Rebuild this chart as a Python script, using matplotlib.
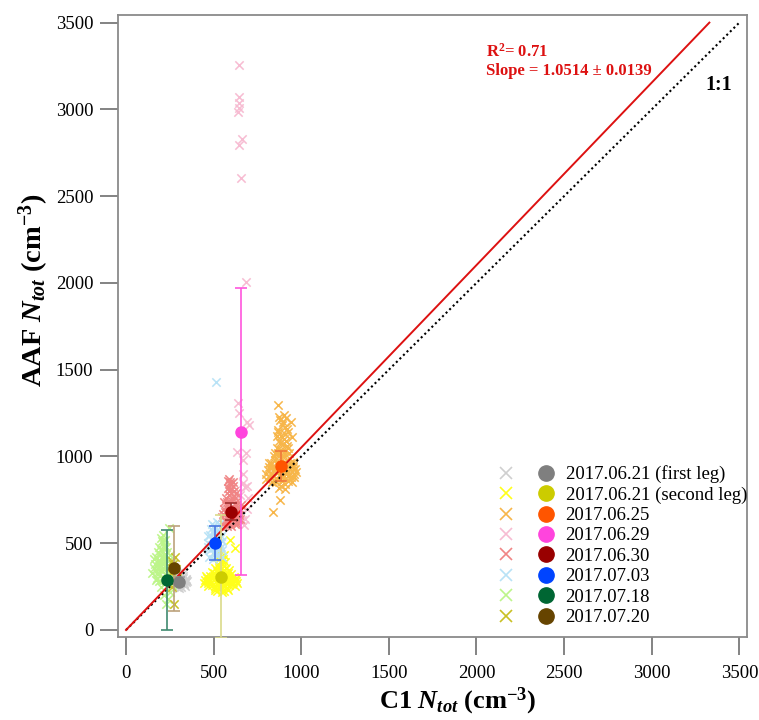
import matplotlib
matplotlib.use('Agg')
import matplotlib.pyplot as plt
from matplotlib.lines import Line2D
from matplotlib.legend_handler import HandlerTuple

plt.rcParams['font.family'] = ['Liberation Serif', 'DejaVu Serif']
plt.rcParams['mathtext.fontset'] = 'custom'
plt.rcParams['mathtext.rm'] = 'Liberation Serif:bold'
plt.rcParams['mathtext.it'] = 'Liberation Serif:italic:bold'
plt.rcParams['mathtext.bf'] = 'Liberation Serif:bold'

# flight days
labels = ['2017.06.21 (first leg)', '2017.06.21 (second leg)', '2017.06.25',
          '2017.06.29', '2017.06.30', '2017.07.03', '2017.07.18', '2017.07.20']

# individual points (C1 Ntot, AAF Ntot)
leg1_pts = [(270, 300), (285, 320), (300, 290), (310, 310), (320, 280), (330, 270), (345, 275), (290, 250),
            (305, 260), (315, 245), (280, 285), (295, 330), (325, 300), (335, 255), (300, 275), (310, 295),
            (288, 265), (318, 325), (302, 240), (340, 290), (275, 280), (290, 300), (305, 285), (320, 295),
            (335, 285), (280, 265), (300, 270), (315, 270), (330, 265), (295, 310), (310, 280), (325, 310),
            (285, 290), (350, 280), (345, 295)]

leg2_pts = [(445, 270), (470, 285), (490, 260), (510, 255), (530, 250), (550, 265), (570, 270), (590, 260),
            (610, 275), (630, 280), (460, 300), (480, 310), (500, 290), (520, 280), (540, 300), (560, 310),
            (580, 295), (600, 300), (620, 290), (500, 330), (520, 340), (540, 350), (560, 345), (580, 330),
            (525, 380), (545, 400), (565, 390), (515, 420), (535, 440), (555, 410), (595, 520), (620, 475),
            (505, 230), (575, 240), (548, 220), (532, 360), (450, 290), (465, 255), (485, 275), (505, 240),
            (525, 265), (545, 245), (565, 255), (585, 275), (605, 265), (625, 300), (455, 310), (475, 295),
            (495, 305), (515, 315), (535, 285), (555, 290), (575, 310), (595, 285), (615, 305), (635, 270),
            (510, 355), (530, 370), (550, 330), (570, 360), (590, 345), (540, 420), (560, 430), (550, 380),
            (530, 320), (600, 320), (490, 335), (470, 270), (620, 255), (580, 230), (560, 225), (520, 225)]

d0625_pts = [(800, 900), (820, 880), (840, 920), (860, 870), (880, 900), (900, 890), (920, 910), (940, 880),
             (960, 900), (830, 960), (850, 980), (870, 950), (890, 1000), (910, 970), (930, 990), (950, 940),
             (860, 1050), (880, 1080), (900, 1100), (920, 1060), (870, 1150), (890, 1180), (910, 1130),
             (880, 1210), (900, 1240), (860, 1120), (920, 1160), (940, 1200), (850, 1020), (930, 1020),
             (890, 860), (905, 840), (875, 820), (869, 1297), (841, 682), (878, 749), (900, 1000), (915, 950),
             (885, 930), (865, 1010), (945, 1110), (955, 970), (835, 850), (815, 940), (810, 920), (825, 900),
             (845, 890), (865, 910), (885, 880), (905, 905), (925, 890), (945, 915), (965, 930), (815, 960),
             (835, 940), (855, 930), (875, 960), (895, 940), (915, 930), (935, 960), (955, 950), (845, 1000),
             (865, 1020), (885, 1040), (905, 1030), (925, 1050), (875, 1090), (895, 1070), (915, 1090),
             (865, 1140), (885, 1120), (905, 1170), (925, 1140), (895, 1200), (915, 1220), (875, 1230),
             (885, 830), (905, 810), (925, 860), (855, 850), (945, 850), (960, 880), (970, 910), (800, 870)]

d0629_pts = [(644, 3256), (644, 3074), (646, 3036), (642, 3007), (640, 2987), (660, 2828), (645, 2795),
             (656, 2603), (683, 2004), (640, 1307), (642, 1250), (688, 1200), (631, 1028), (685, 1018),
             (669, 845), (678, 826), (660, 634), (672, 605), (650, 700), (695, 760), (665, 900), (655, 660),
             (680, 640), (690, 700), (648, 780), (690, 830), (670, 980), (700, 1180)]

d0630_pts = [(550, 650), (565, 640), (580, 660), (595, 620), (610, 630), (625, 650), (640, 640), (560, 700),
             (575, 720), (590, 690), (605, 710), (620, 700), (635, 680), (570, 760), (585, 780), (600, 750),
             (615, 770), (630, 740), (580, 820), (595, 850), (610, 830), (590, 870), (600, 600), (620, 610),
             (560, 740), (645, 700), (655, 720), (575, 600), (605, 690), (585, 660), (555, 670), (570, 630),
             (585, 645), (600, 660), (615, 645), (630, 630), (645, 660), (565, 680), (580, 700), (595, 680),
             (610, 690), (625, 720), (640, 690), (575, 740), (590, 730), (605, 760), (620, 760), (585, 800),
             (600, 810), (615, 800), (595, 840), (570, 620), (555, 610), (635, 610), (650, 640), (610, 850),
             (580, 860), (625, 790)]

d0703_pts = [(465, 480), (480, 460), (495, 470), (510, 450), (525, 460), (540, 480), (470, 540), (490, 530),
             (505, 520), (520, 550), (535, 530), (550, 510), (485, 580), (500, 600), (515, 570), (530, 610),
             (475, 420), (545, 420), (495, 410), (520, 620), (513, 1428), (470, 500), (485, 490), (500, 480),
             (515, 490), (530, 500), (545, 460), (480, 550), (500, 560), (515, 540), (530, 570), (490, 610),
             (510, 590), (475, 470), (505, 440), (525, 430), (540, 540)]

d0718_pts = [(150, 330), (165, 380), (180, 350), (195, 400), (210, 360), (225, 320), (240, 300), (255, 340),
             (170, 420), (185, 450), (200, 390), (215, 430), (230, 410), (245, 370), (260, 310), (190, 480),
             (205, 510), (220, 470), (235, 450), (250, 430), (175, 300), (200, 250), (225, 270), (250, 220),
             (215, 200), (240, 180), (230, 150), (210, 550), (245, 590), (265, 260), (160, 360), (175, 330),
             (190, 370), (205, 340), (220, 390), (235, 350), (180, 400), (195, 430), (210, 410), (225, 440),
             (240, 400), (200, 460), (215, 490), (230, 480), (185, 320), (170, 290), (215, 300), (240, 330),
             (255, 380), (200, 530), (225, 520), (190, 280), (160, 410), (250, 290)]

d0720_pts = [(255, 330), (270, 380), (285, 350), (275, 150), (260, 400), (290, 300), (265, 250), (280, 420)]

# flight means and standard deviations
mean_x = [304, 540, 884, 654, 599, 509, 233, 272]
mean_y = [278, 307, 945, 1143, 682, 503, 288, 356]
std_y = [25, 356, 86, 826, 50, 99, 288, 244]

# fit
slope = 1.0514
slope_err = 0.0139
r2 = 0.71

all_pts = [leg1_pts, leg2_pts, d0625_pts, d0629_pts, d0630_pts, d0703_pts, d0718_pts, d0720_pts]

cross_colors = ['#cfcfcf', '#ffff1a', '#f7b64a', '#f7bcd2', '#f08585', '#b8e2f6', '#bdf58a', '#c9c024']
dot_colors = ['#7f7f7f', '#cccc00', '#ff5500', '#ff44dd', '#990000', '#0044ff', '#006633', '#664400']
bar_colors = ['#a0a0a0', '#dada8a', '#f07838', '#ff55dd', '#a03030', '#4a78e0', '#3f8a70', '#bca27c']

fig = plt.figure(figsize=(7.59, 7.2), dpi=100)
ax = fig.add_axes([0.1559, 0.1149, 0.8279, 0.8643])

for pts, c in zip(all_pts, cross_colors):
    xs = [p[0] for p in pts]
    ys = [p[1] for p in pts]
    ax.scatter(xs, ys, marker='x', s=36, linewidths=1.1, color=c, zorder=2)

ax.plot([0, 3500], [0, 3500], color='black', lw=1.5, ls=(0, (1, 1.4)), zorder=3)
ax.plot([0, 3500 / slope], [0, 3500], color='#dd1111', lw=1.4, zorder=3)

for i in range(len(labels)):
    ax.errorbar(mean_x[i], mean_y[i], yerr=std_y[i], fmt='none', ecolor=bar_colors[i],
                elinewidth=1.2, capsize=4.5, capthick=1.2, zorder=4)
    ax.plot(mean_x[i], mean_y[i], 'o', color=dot_colors[i], markersize=8, zorder=5)

ax.text(2054, 3304, r'R$^{2}$= %.2f' % r2, color='#dd1111', fontsize=12, fontweight='bold')
ax.text(2054, 3199, 'Slope = %.4f \u00b1 %.4f' % (slope, slope_err), color='#dd1111',
        fontsize=12, fontweight='bold')
ax.text(3304, 3112, '1:1', color='black', fontsize=14.5, fontweight='bold')

ax.set_xlim(-44, 3542)
ax.set_ylim(-42, 3544)
ax.set_xticks(range(0, 3501, 500))
ax.set_yticks(range(0, 3501, 500))
for s in ax.spines.values():
    s.set_color('#8a8a8a')
    s.set_linewidth(1.3)
ax.tick_params(direction='out', length=13, width=1.3, color='#7a7a7a', labelsize=13.5, pad=5)
ax.tick_params(axis='x', pad=7)

ax.set_xlabel(r'C1 $N_{tot}$ (cm$^{-3}$)', fontsize=19, fontweight='bold')
ax.set_ylabel(r'AAF $N_{tot}$ (cm$^{-3}$)', fontsize=20.5, fontweight='bold')
ax.xaxis.set_label_coords(0.5406, -0.077)
ax.yaxis.set_label_coords(-0.107, 0.558)

handles = []
for cc, dc in zip(cross_colors, dot_colors):
    hx = Line2D([], [], marker='x', ls='none', color=cc, markersize=8, mew=1.2)
    ho = Line2D([], [], marker='o', ls='none', color=dc, markersize=11)
    handles.append((hx, ho))
fs = 13.5
fs_px = fs * 100 / 72
fig.legend(handles, labels, handler_map={tuple: HandlerTuple(ndivide=None, pad=16 / fs_px)},
           loc='upper left', bbox_to_anchor=(493.5 / 759, 1 - 465 / 720),
           bbox_transform=fig.transFigure, frameon=False, fontsize=fs, borderpad=0,
           borderaxespad=0, labelspacing=0.18, handlelength=64 / fs_px,
           handletextpad=8 / fs_px, handleheight=0.6)

fig.savefig('out.png', dpi=100)
